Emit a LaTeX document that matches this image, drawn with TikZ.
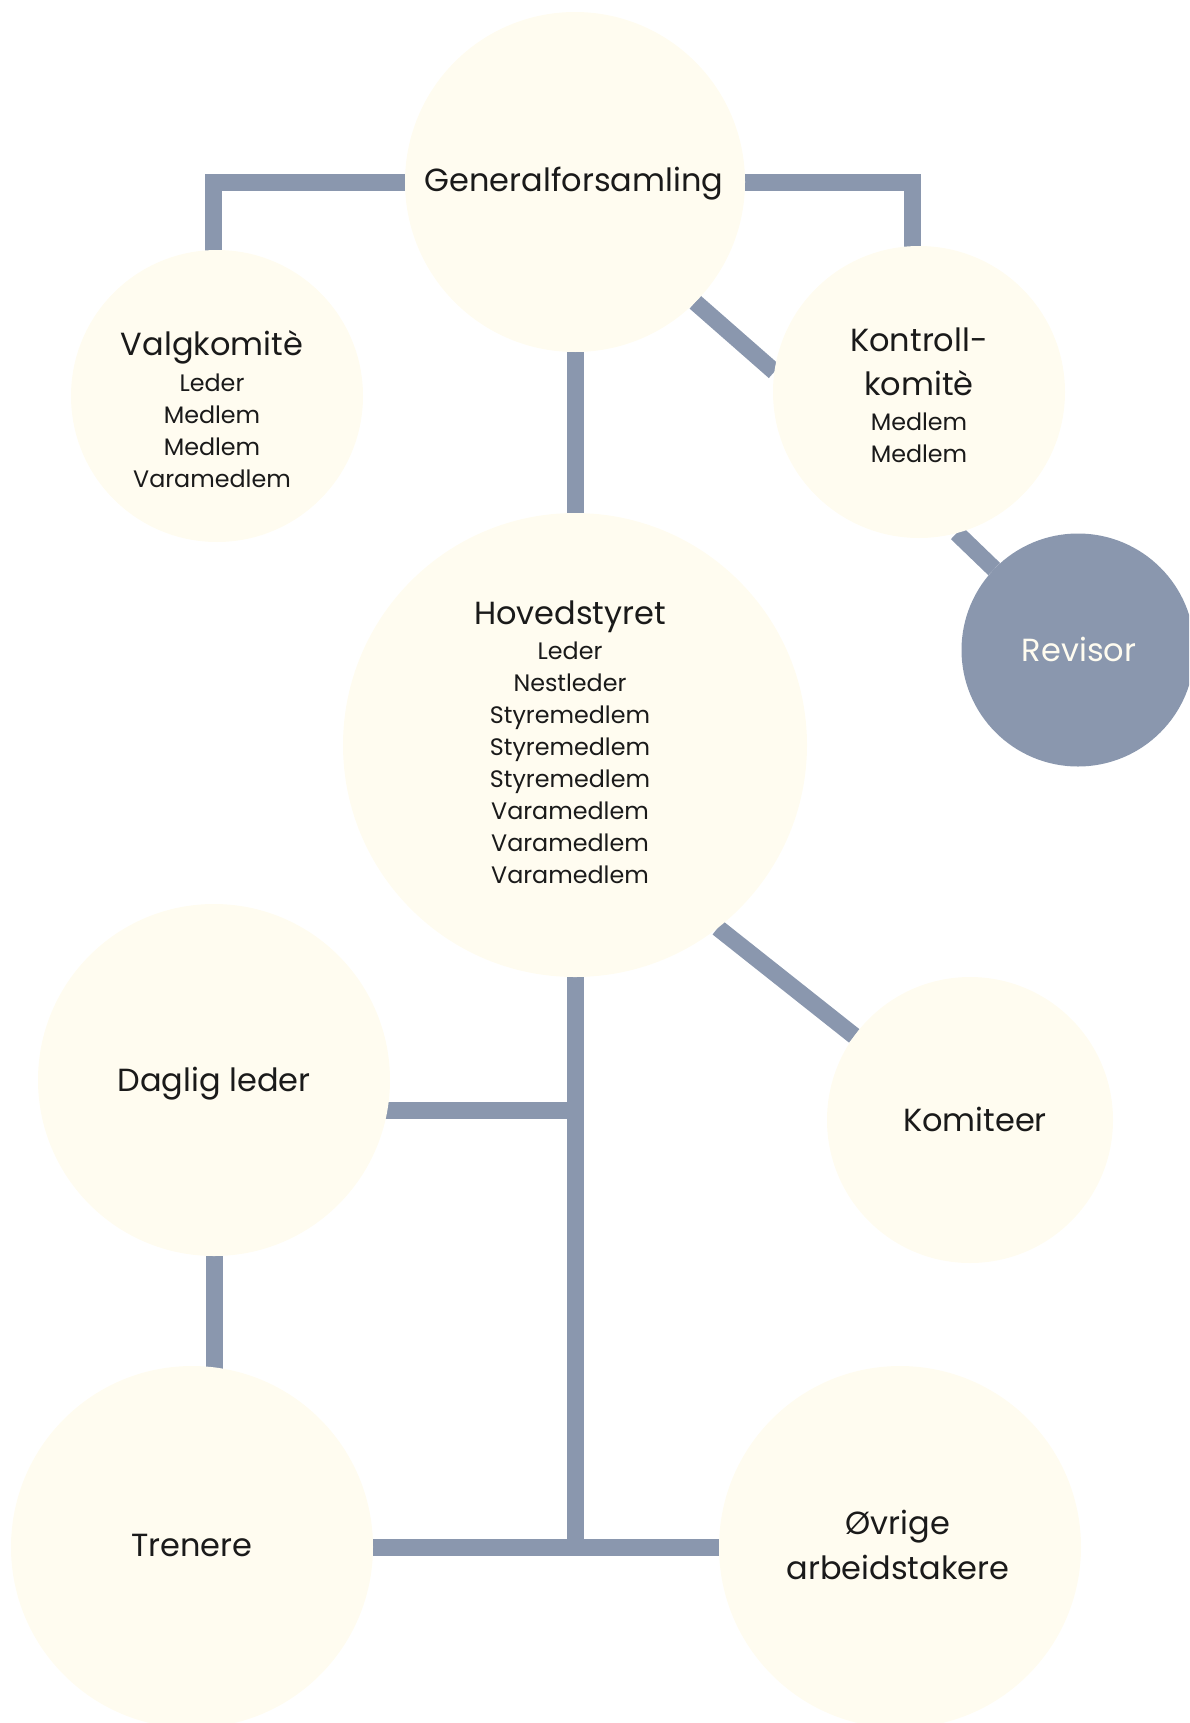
\documentclass[tikz,border=0pt]{standalone}
\usepackage{fontspec}
\setmainfont{Poppins}
\usetikzlibrary{backgrounds}
\definecolor{cream}{HTML}{FFFCF0}
\definecolor{slate}{HTML}{8A97AE}
\definecolor{ink}{HTML}{1A1A1A}
\newcommand{\bigtxt}{\fontsize{16}{22.5}\selectfont}
\newcommand{\smalltxt}{\fontsize{11.9}{16}\selectfont}
\tikzset{
  bubble/.style={circle, fill=cream, draw=none, inner sep=0pt, outer sep=0pt},
  darkbubble/.style={circle, fill=slate, draw=none, inner sep=0pt, outer sep=0pt},
  bigtext/.style={anchor=base, inner sep=0pt, text=ink, font=\bigtxt, align=center},
  smalltext/.style={anchor=base, inner sep=0pt, text=ink, font=\smalltxt, align=center},
  link/.style={draw=slate, line width=8.5pt, line join=miter, line cap=butt}
}
\begin{document}
\begin{tikzpicture}[x=0.5pt, y=-0.5pt]
\useasboundingbox (0,0) rectangle (1189,1723);
\clip (0,0) rectangle (1189,1723);
% circles
\node[bubble, minimum size=170pt] (gf) at (575,182) {};
\node[bubble, minimum size=146pt] (vk) at (217,396) {};
\node[bubble, minimum size=146pt] (kk) at (919,392) {};
\node[darkbubble, minimum size=116.5pt] (rev) at (1078,650) {};
\node[bubble, minimum size=232pt] (hs) at (575,745) {};
\node[bubble, minimum size=143pt] (kom) at (970,1120) {};
\node[bubble, minimum size=176pt] (dl) at (214,1080) {};
\node[bubble, minimum size=181pt] (tr) at (192,1547) {};
\node[bubble, minimum size=181pt] (ov) at (900,1547) {};
\coordinate (j) at (575,1547);
% connectors
\begin{scope}[on background layer]
  \draw[link] (gf) -| ([xshift=-1.75pt]vk.center);
  \draw[link] (gf) -| ([xshift=-3.5pt]kk.center);
  \draw[link] (gf.-45) -- (kk.172);
  \draw[link] (kk.-75.4) -- (rev.136);
  \draw[link] (gf) -- (hs);
  \draw[link] (hs.-52) -- (kom.144);
  \draw[link] ([yshift=-15pt]dl.center) -| (hs);
  \draw[link] (hs) -- (j);
  \draw[link] (tr) -- (ov);
  \draw[link] (dl) -- (dl |- tr);
\end{scope}
% texts (base anchor = baseline of last line)
\node[bigtext] (gft) at (574,191.5) {Generalforsamling};
\node[smalltext] (vkt) at (212,487) {{\bigtxt Valgkomitè}\\[2pt]Leder\\Medlem\\Medlem\\Varamedlem};
\node[smalltext] (kkt) at (919,462) {{\bigtxt Kontroll-}\\[5.75pt]{\bigtxt komitè}\\[1.5pt]Medlem\\Medlem};
\node[bigtext, text=cream] (revt) at (1079,661.5) {Revisor};
\node[smalltext] (hst) at (570,883) {{\bigtxt Hovedstyret}\\[1.5pt]Leder\\Nestleder\\Styremedlem\\Styremedlem\\Styremedlem\\Varamedlem\\Varamedlem\\Varamedlem};
\node[bigtext] (komt) at (975,1131.5) {Komiteer};
\node[bigtext] (dlt) at (214,1091.5) {Daglig leder};
\node[bigtext] (trt) at (192,1556.5) {Trenere};
\node[bigtext] (ovt) at (898,1579.5) {Øvrige\\arbeidstakere};
\end{tikzpicture}
\end{document}
